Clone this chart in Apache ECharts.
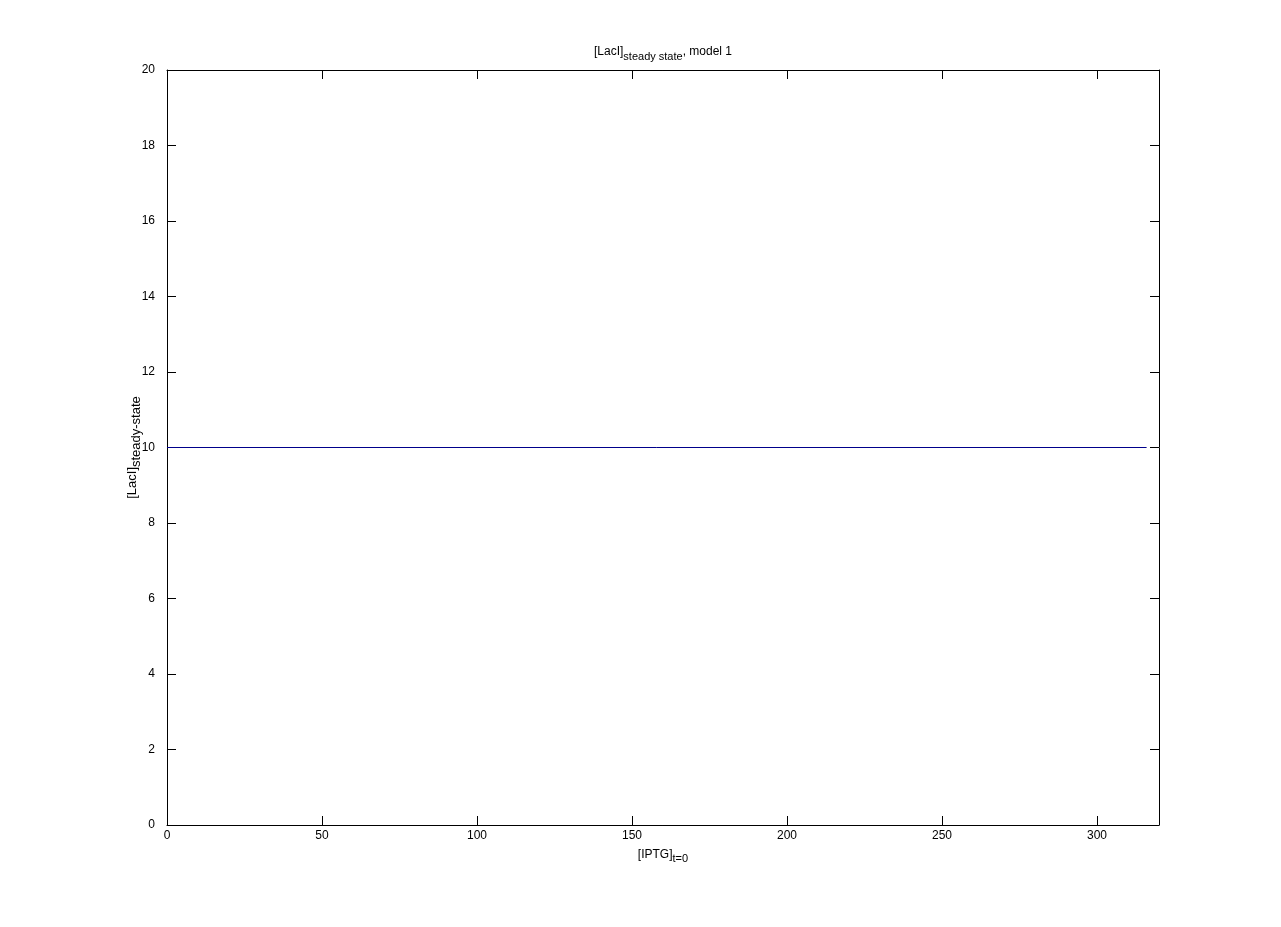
<!DOCTYPE html>
<html><head><meta charset="utf-8">
<script src="https://cdn.jsdelivr.net/npm/echarts@6/dist/echarts.min.js"></script>
<style>html,body{margin:0;padding:0;background:#fff}#c{width:1281px;height:927px}</style>
</head><body><div id="c"></div>
<script>
const xValues = [0, 316];
const yValues = [10, 10];
const xTickLabels = ['0', '50', '100', '150', '200', '250', '300'];
const yTickLabels = ['0', '2', '4', '6', '8', '10', '12', '14', '16', '18', '20'];

const FONT = 'Liberation Sans, Arial, sans-serif';
const chart = echarts.init(document.getElementById('c'));
const axisLine = {show: true, onZero: false, lineStyle: {color: '#000', width: 1}};
const tick = {show: true, inside: true, length: 9, lineStyle: {color: '#000'}};
function mkRich(mainSize, subSize, subPad) {
  return {
    m: {fontSize: mainSize, fontFamily: FONT, fontWeight: 'normal', color: '#000', verticalAlign: 'top', lineHeight: mainSize + 2},
    s: {fontSize: subSize, fontFamily: FONT, fontWeight: 'normal', color: '#000', padding: [subPad, 0, 0, 0], lineHeight: subSize + 2}
  };
}
chart.setOption({
  animation: false,
  backgroundColor: '#fff',
  title: {
    text: '{m|[LacI]}{s|steady state}{m|, model 1}',
    left: 589, top: 41,
    textStyle: {fontWeight: 'normal', rich: mkRich(12, 11, 7)}
  },
  grid: {left: 167, top: 70, width: 992, height: 755, show: false},
  xAxis: [{
    type: 'value', min: 0, max: 320, interval: 50, position: 'bottom',
    axisLine: axisLine, axisTick: tick, splitLine: {show: false},
    axisLabel: {color: '#000', fontSize: 12, fontFamily: FONT, margin: 5,
      formatter: v => { const s = String(v); return xTickLabels.indexOf(s) >= 0 ? s : ''; }},
    name: '{m|[IPTG]}{s|t=0}', nameLocation: 'middle', nameGap: 22,
    nameTextStyle: {rich: mkRich(12, 11, 7)}
  }, {
    type: 'value', min: 0, max: 320, interval: 50, position: 'top',
    axisLine: axisLine, axisTick: tick, splitLine: {show: false}, axisLabel: {show: false}
  }],
  yAxis: [{
    type: 'value', min: 0, max: 20, interval: 2, position: 'left',
    axisLine: axisLine, axisTick: tick, splitLine: {show: false},
    axisLabel: {color: '#000', fontSize: 12, fontFamily: FONT, margin: 12,
      formatter: v => { const s = String(v); return yTickLabels.indexOf(s) >= 0 ? s : ''; }},
    name: '{m|[LacI]}{s|steady-state}', nameLocation: 'middle', nameGap: 26, nameRotate: 90,
    nameMoveOverlap: false,
    nameTextStyle: {rich: mkRich(13, 13, 6)}
  }, {
    type: 'value', min: 0, max: 20, interval: 2, position: 'right',
    axisLine: axisLine, axisTick: tick, splitLine: {show: false}, axisLabel: {show: false}
  }],
  series: [{
    type: 'line', xAxisIndex: 0, yAxisIndex: 0,
    data: xValues.map((x, i) => [x, yValues[i]]),
    showSymbol: false, lineStyle: {color: '#00008b', width: 1}
  }]
});
</script></body></html>
